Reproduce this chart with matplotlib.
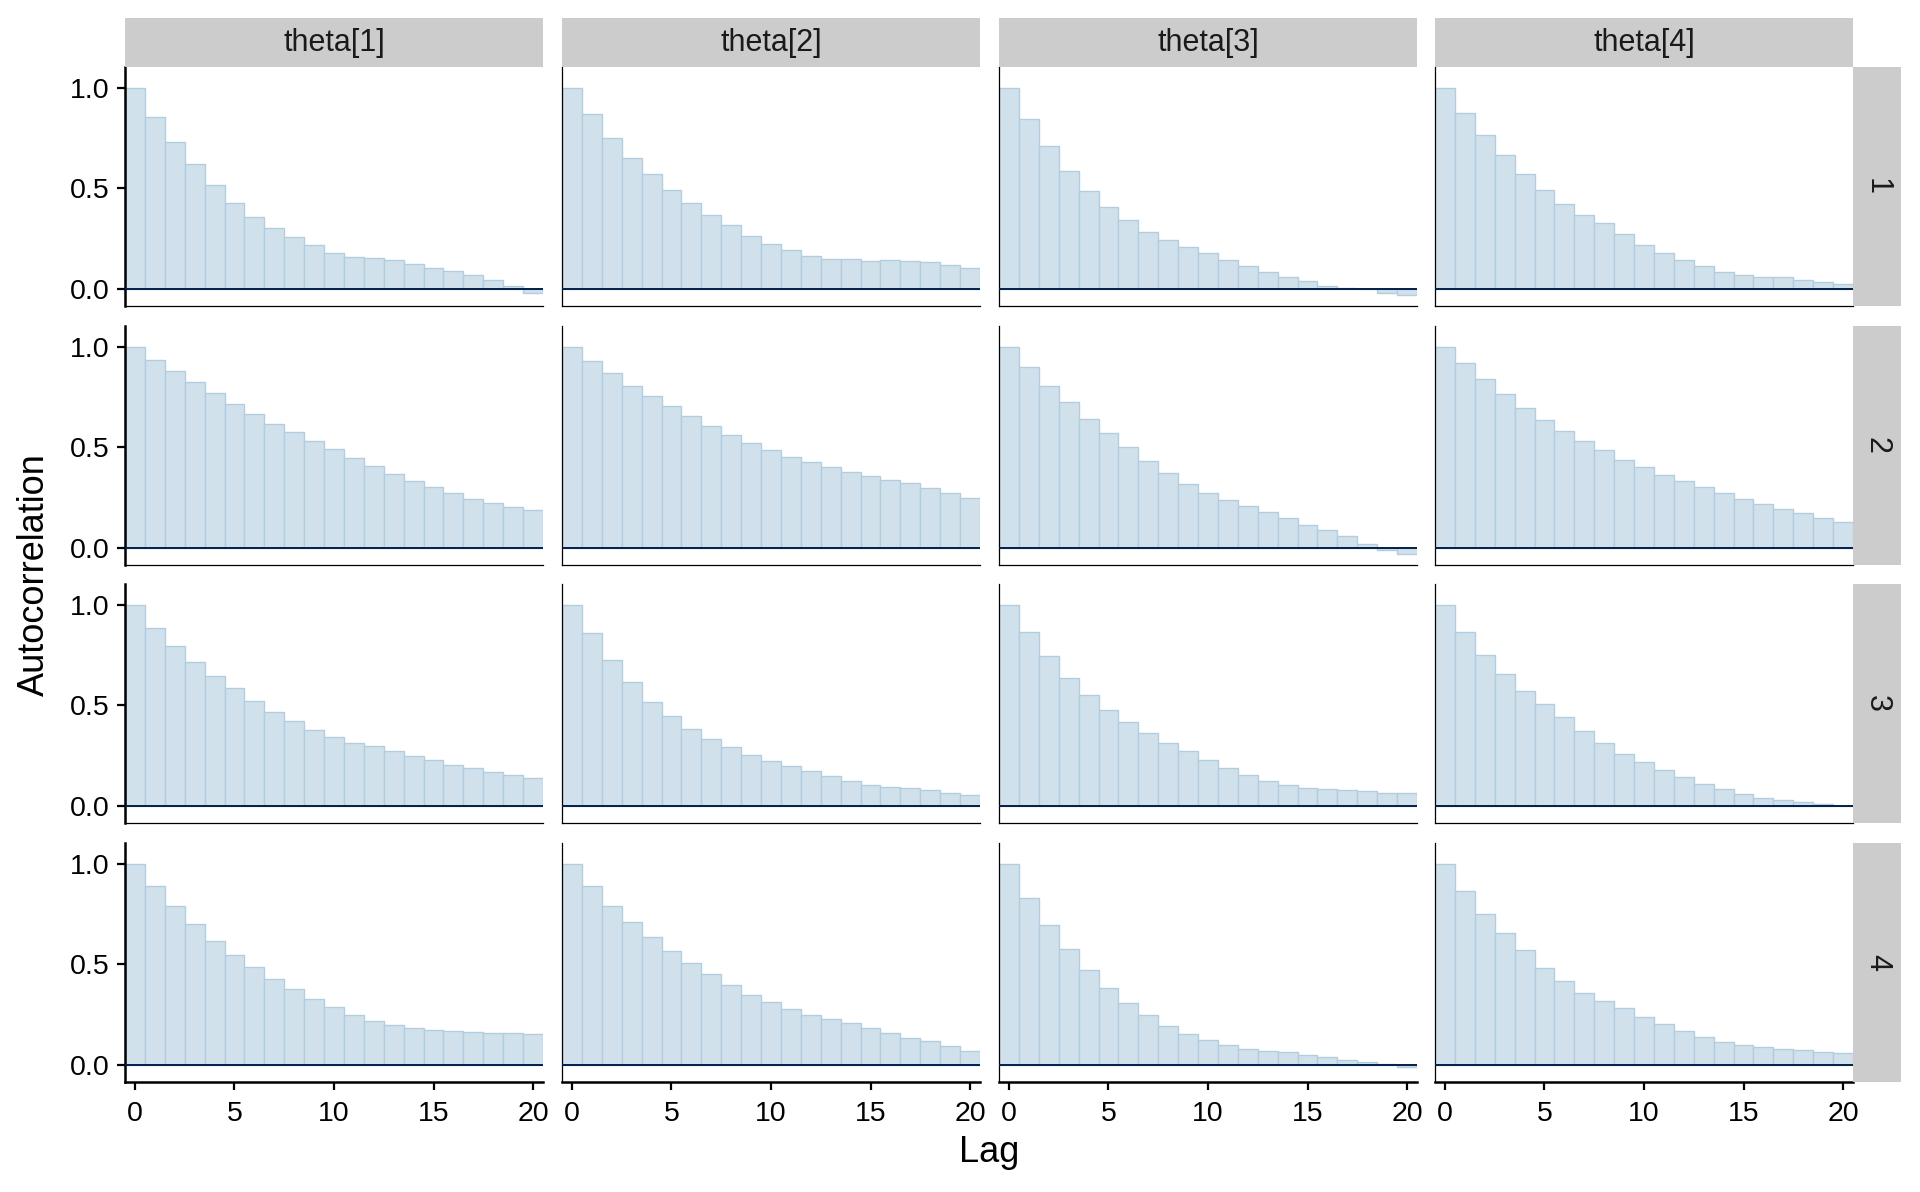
import matplotlib
matplotlib.use("Agg")
import matplotlib.pyplot as plt

plt.rcParams['font.family'] = ['Liberation Sans', 'DejaVu Sans']

params = ["theta[1]", "theta[2]", "theta[3]", "theta[4]"]
chains = ["1", "2", "3", "4"]
lags = list(range(21))

theta1 = [
    [1.0, 0.854, 0.730, 0.621, 0.517, 0.427, 0.358, 0.301, 0.258, 0.217, 0.180, 0.161, 0.154, 0.144, 0.126, 0.104, 0.088, 0.070, 0.043, 0.012, -0.020],
    [1.0, 0.936, 0.878, 0.823, 0.770, 0.716, 0.666, 0.617, 0.575, 0.534, 0.491, 0.448, 0.407, 0.369, 0.334, 0.304, 0.273, 0.245, 0.223, 0.203, 0.187],
    [1.0, 0.886, 0.795, 0.716, 0.645, 0.587, 0.522, 0.469, 0.423, 0.379, 0.344, 0.312, 0.296, 0.274, 0.248, 0.226, 0.205, 0.188, 0.170, 0.154, 0.139],
    [1.0, 0.888, 0.792, 0.702, 0.618, 0.547, 0.489, 0.426, 0.377, 0.329, 0.288, 0.248, 0.218, 0.198, 0.183, 0.175, 0.169, 0.164, 0.159, 0.157, 0.154],
]
theta2 = [
    [1.0, 0.868, 0.750, 0.651, 0.571, 0.492, 0.425, 0.369, 0.318, 0.263, 0.224, 0.194, 0.164, 0.149, 0.147, 0.141, 0.144, 0.139, 0.134, 0.119, 0.104],
    [1.0, 0.932, 0.869, 0.807, 0.755, 0.704, 0.656, 0.607, 0.562, 0.522, 0.486, 0.453, 0.426, 0.402, 0.379, 0.360, 0.340, 0.321, 0.296, 0.271, 0.246],
    [1.0, 0.858, 0.726, 0.615, 0.517, 0.445, 0.383, 0.332, 0.291, 0.255, 0.225, 0.198, 0.172, 0.147, 0.126, 0.106, 0.093, 0.088, 0.081, 0.063, 0.053],
    [1.0, 0.888, 0.793, 0.709, 0.635, 0.565, 0.507, 0.451, 0.400, 0.350, 0.312, 0.276, 0.248, 0.228, 0.207, 0.185, 0.159, 0.136, 0.117, 0.094, 0.069],
]
theta3 = [
    [1.0, 0.844, 0.712, 0.586, 0.487, 0.407, 0.343, 0.285, 0.242, 0.207, 0.179, 0.146, 0.113, 0.084, 0.061, 0.038, 0.015, 0.003, -0.002, -0.020, -0.028],
    [1.0, 0.901, 0.807, 0.724, 0.643, 0.570, 0.502, 0.433, 0.372, 0.317, 0.273, 0.238, 0.207, 0.177, 0.147, 0.116, 0.091, 0.061, 0.021, -0.010, -0.031],
    [1.0, 0.866, 0.744, 0.638, 0.550, 0.478, 0.418, 0.362, 0.314, 0.273, 0.230, 0.190, 0.154, 0.126, 0.106, 0.091, 0.086, 0.081, 0.073, 0.063, 0.066],
    [1.0, 0.831, 0.694, 0.577, 0.474, 0.385, 0.309, 0.246, 0.192, 0.152, 0.122, 0.098, 0.081, 0.068, 0.064, 0.051, 0.038, 0.023, 0.013, 0.003, -0.010],
]
theta4 = [
    [1.0, 0.877, 0.767, 0.664, 0.571, 0.490, 0.421, 0.369, 0.326, 0.273, 0.219, 0.179, 0.144, 0.114, 0.086, 0.068, 0.058, 0.058, 0.045, 0.033, 0.025],
    [1.0, 0.921, 0.840, 0.767, 0.697, 0.635, 0.582, 0.534, 0.486, 0.436, 0.402, 0.364, 0.331, 0.302, 0.274, 0.245, 0.220, 0.193, 0.172, 0.149, 0.131],
    [1.0, 0.866, 0.752, 0.658, 0.574, 0.506, 0.441, 0.375, 0.311, 0.258, 0.218, 0.177, 0.142, 0.107, 0.083, 0.061, 0.041, 0.028, 0.018, 0.008, 0.002],
    [1.0, 0.863, 0.752, 0.658, 0.572, 0.484, 0.415, 0.360, 0.316, 0.281, 0.240, 0.202, 0.167, 0.137, 0.114, 0.098, 0.088, 0.081, 0.076, 0.064, 0.061],
]
acf_by_param = [theta1, theta2, theta3, theta4]

y_ticks = [0.0, 0.5, 1.0]
y_tick_labels = ["0.0", "0.5", "1.0"]
x_ticks = [0, 5, 10, 15, 20]

# ---- layout (pixels) ----
W, H = 1920, 1192
col_left = [125, 562, 999, 1435]
row_top = [67, 326, 584, 843]
pw, ph = 418, 239
strip_top, strip_h = 18, 49
rstrip_left, rstrip_w = 1853, 48

fill_c = "#d1e1ec"
edge_c = "#b3cde0"
line_c = "#011f4b"
strip_c = "#cccccc"

all_vals = [v for p in acf_by_param for ch in p for v in ch]
lo = min(0.0, min(all_vals))
hi = 1.05
span = hi - lo
ylim = (lo - 0.05 * span, hi + 0.05 * span)

fig = plt.figure(figsize=(W / 100, H / 100), dpi=100)


def rect(x, y, w, h):
    return [x / W, 1 - (y + h) / H, w / W, h / H]


tick_fs = 20.5
for i, ch in enumerate(chains):
    for j, p in enumerate(params):
        ax = fig.add_axes(rect(col_left[j], row_top[i], pw, ph))
        vals = acf_by_param[j][i]
        ax.bar(lags, vals, width=1.0, color=fill_c, edgecolor=edge_c, linewidth=1.0, zorder=2)
        ax.axhline(0, color=line_c, lw=1.4, zorder=3)
        ax.set_xlim(-0.5, 20.5)
        ax.set_ylim(*ylim)
        ax.spines['top'].set_visible(False)
        ax.spines['right'].set_visible(False)
        ax.spines['left'].set_linewidth(1.8 if j == 0 else 0.9)
        ax.spines['bottom'].set_linewidth(1.8 if i == 3 else 0.9)
        ax.spines['left'].set_color('black')
        ax.spines['bottom'].set_color('black')
        if j == 0:
            ax.set_yticks(y_ticks)
            ax.set_yticklabels(y_tick_labels)
            ax.tick_params(axis='y', length=6, width=1.6, labelsize=tick_fs, pad=5, colors='black')
        else:
            ax.set_yticks([])
        if i == 3:
            ax.set_xticks(x_ticks)
            ax.tick_params(axis='x', length=6, width=1.6, labelsize=tick_fs, pad=8, colors='black')
        else:
            ax.set_xticks([])

# top strips
for j, p in enumerate(params):
    sax = fig.add_axes(rect(col_left[j], strip_top, pw, strip_h))
    sax.set_facecolor(strip_c)
    sax.set_xticks([]); sax.set_yticks([])
    for s in sax.spines.values():
        s.set_visible(False)
    sax.text(0.5, 0.5, p, ha='center', va='center', fontsize=22, color='#1a1a1a',
             transform=sax.transAxes)

# right strips
for i, ch in enumerate(chains):
    sax = fig.add_axes(rect(rstrip_left, row_top[i], rstrip_w, ph))
    sax.set_facecolor(strip_c)
    sax.set_xticks([]); sax.set_yticks([])
    for s in sax.spines.values():
        s.set_visible(False)
    sax.text(0.5, 0.5, ch, ha='center', va='center', fontsize=22, color='#1a1a1a',
             rotation=-90, transform=sax.transAxes)

fig.text(34 / W, 1 - 574.5 / H, "Autocorrelation", rotation=90, ha='center', va='center',
         fontsize=26, color='black')
fig.text(989 / W, 1 - 1152 / H, "Lag", ha='center', va='center', fontsize=26, color='black')

fig.savefig("out.png", dpi=100, facecolor='white')
